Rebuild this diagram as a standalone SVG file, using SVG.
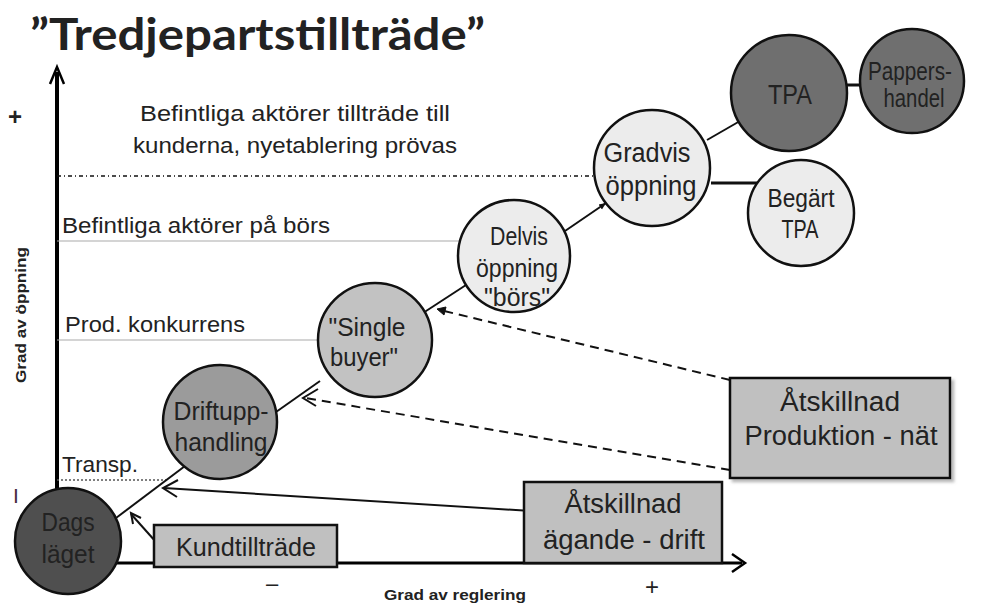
<svg xmlns="http://www.w3.org/2000/svg" width="986" height="607" viewBox="0 0 986 607">
<style>
text{font-family:"Liberation Sans",Arial,sans-serif;fill:#222;}
.lbl{font-size:22px;}
.nt{font-size:25px;text-anchor:middle;}
.bt{font-size:27px;text-anchor:middle;}
.ax{font-size:15px;font-weight:bold;}
.node circle{stroke:#111;stroke-width:2.5;}
.box rect{stroke:#111;stroke-width:2.5;fill:#c0c0c0;}
.con line,.con path{stroke:#111;stroke-width:2;fill:none;}
.dash{stroke-dasharray:9 6;}
</style>
<defs>
<marker id="small" markerWidth="8" markerHeight="8" refX="7" refY="4" orient="auto" markerUnits="userSpaceOnUse">
<path d="M0,1 L7,4 L0,7 z" fill="#111"/>
</marker>
<filter id="sh" x="-10%" y="-10%" width="130%" height="130%">
<feDropShadow dx="3" dy="3" stdDeviation="1.5" flood-color="#888" flood-opacity="0.6"/>
</filter>
</defs>
<rect width="986" height="607" fill="#fff"/>

<text x="30" y="50" style="font-family:Lato,'Liberation Sans',sans-serif;font-weight:bold;font-size:44px;" textLength="455" lengthAdjust="spacingAndGlyphs">”Tredjepartstillträde”</text>

<!-- axes -->
<g id="axes">
<line x1="57" y1="492" x2="57" y2="72" stroke="#000" stroke-width="4"/>
<path d="M50,84 L57,67 L64,84" fill="none" stroke="#000" stroke-width="2.5"/>
<line x1="110" y1="563" x2="742" y2="563" stroke="#000" stroke-width="3"/>
<path d="M732,554 L745,563 L732,572" fill="none" stroke="#000" stroke-width="2.5"/>
<text x="15" y="125" style="font-size:24px;font-weight:bold;" text-anchor="middle">+</text>
<text x="16" y="503" style="font-size:21px;fill:#4a2a40;" text-anchor="middle">I</text>
<text class="ax" x="0" y="0" transform="translate(26 315) rotate(-90)" text-anchor="middle" textLength="136" lengthAdjust="spacingAndGlyphs">Grad av öppning</text>
<text x="272" y="591" style="font-size:22px;" text-anchor="middle">–</text>
<text class="ax" x="455" y="600" text-anchor="middle" textLength="142" lengthAdjust="spacingAndGlyphs">Grad av reglering</text>
<text x="652" y="595" style="font-size:24px;" text-anchor="middle">+</text>
</g>

<!-- level lines -->
<g id="levels">
<line x1="57" y1="176" x2="598" y2="176" stroke="#111" stroke-width="1.3" stroke-dasharray="4 3 1 3"/>
<line x1="57" y1="241" x2="462" y2="241" stroke="#aaa" stroke-width="1.2"/>
<line x1="57" y1="340" x2="318" y2="340" stroke="#aaa" stroke-width="1.2"/>
<line x1="57" y1="480" x2="166" y2="480" stroke="#555" stroke-width="1.5" stroke-dasharray="2 2"/>
<text class="lbl" x="295" y="121" text-anchor="middle" textLength="310" lengthAdjust="spacingAndGlyphs">Befintliga aktörer tillträde till</text>
<text class="lbl" x="295" y="153" text-anchor="middle" textLength="324" lengthAdjust="spacingAndGlyphs">kunderna, nyetablering prövas</text>
<text class="lbl" x="62" y="233" textLength="268" lengthAdjust="spacingAndGlyphs">Befintliga aktörer på börs</text>
<text class="lbl" x="65" y="332" textLength="180" lengthAdjust="spacingAndGlyphs">Prod. konkurrens</text>
<text class="lbl" x="62" y="472" textLength="76" lengthAdjust="spacingAndGlyphs">Transp.</text>
</g>

<!-- connectors -->
<g id="connectors" class="con">
<line x1="116" y1="518" x2="189" y2="463"/>
<line x1="276" y1="412" x2="320" y2="381"/>
<line x1="423" y1="313" x2="466" y2="285"/>
<line x1="565" y1="231" x2="606" y2="203" marker-end="url(#small)"/>
<line x1="707" y1="140" x2="740" y2="121"/>
<line x1="845" y1="85" x2="868" y2="85" style="stroke-width:3"/>
<line x1="711" y1="183" x2="768" y2="183" style="stroke-width:3"/>
<line x1="156" y1="542" x2="131" y2="514"/>
<path d="M141,518 L131,513 L133,524"/>
<line x1="547" y1="512" x2="164" y2="488"/>
<path d="M178,480 L163,488 L177,497"/>
<line class="dash" x1="730" y1="380" x2="440" y2="310"/>
<path d="M437,309 L446,307 L444,315 z" style="fill:#111;stroke-width:1"/>
<line class="dash" x1="730" y1="470" x2="305" y2="398"/>
<path d="M318,389 L303,398 L316,406"/>
</g>

<!-- nodes -->
<g id="dags" class="node"><circle cx="68" cy="541" r="53" fill="#4f4f4f"/>
<text class="nt" x="68" y="531" textLength="53" lengthAdjust="spacingAndGlyphs">Dags</text><text class="nt" x="68" y="563" textLength="53" lengthAdjust="spacingAndGlyphs">läget</text></g>
<g id="drift" class="node"><circle cx="220" cy="422" r="57" fill="#9b9b9b"/>
<text class="nt" x="221" y="420" textLength="95" lengthAdjust="spacingAndGlyphs">Driftupp-</text><text class="nt" x="221" y="451" textLength="93" lengthAdjust="spacingAndGlyphs">handling</text></g>
<g id="single" class="node"><circle cx="375" cy="340" r="57" fill="#c2c2c2"/>
<text class="nt" x="367" y="336" textLength="77" lengthAdjust="spacingAndGlyphs">"Single</text><text class="nt" x="364" y="366" textLength="68" lengthAdjust="spacingAndGlyphs">buyer"</text></g>
<g id="delvis" class="node"><circle cx="514" cy="256" r="56" fill="#ececec"/>
<text class="nt" x="519" y="245" textLength="58" lengthAdjust="spacingAndGlyphs">Delvis</text><text class="nt" x="517" y="277" textLength="82" lengthAdjust="spacingAndGlyphs">öppning</text><text class="nt" x="517" y="306" textLength="66" lengthAdjust="spacingAndGlyphs">"börs"</text></g>
<g id="gradvis" class="node"><circle cx="652" cy="168" r="58" fill="#ececec"/>
<text class="nt" x="647" y="162" style="font-size:27px" textLength="87" lengthAdjust="spacingAndGlyphs">Gradvis</text><text class="nt" x="651" y="195" style="font-size:27px" textLength="91" lengthAdjust="spacingAndGlyphs">öppning</text></g>
<g id="tpa" class="node"><circle cx="789" cy="93" r="58" fill="#6f6f6f"/>
<text class="nt" x="790" y="104" style="font-size:27px" textLength="44" lengthAdjust="spacingAndGlyphs">TPA</text></g>
<g id="pappers" class="node"><circle cx="912" cy="81" r="52" fill="#6f6f6f"/>
<text class="nt" x="910" y="80" textLength="84" lengthAdjust="spacingAndGlyphs">Pappers-</text><text class="nt" x="914" y="107" textLength="61" lengthAdjust="spacingAndGlyphs">handel</text></g>
<g id="begart" class="node"><circle cx="801" cy="213" r="53" fill="#ececec"/>
<text class="nt" x="801" y="207" textLength="67" lengthAdjust="spacingAndGlyphs">Begärt</text><text class="nt" x="800" y="238" textLength="37" lengthAdjust="spacingAndGlyphs">TPA</text></g>

<!-- boxes -->
<g id="kund" class="box"><rect x="154" y="525" width="183" height="42"/>
<text class="nt" x="246" y="556" textLength="140" lengthAdjust="spacingAndGlyphs">Kundtillträde</text></g>
<g id="agande" class="box"><rect x="524" y="482" width="198" height="81"/>
<text class="bt" x="623" y="513" textLength="117" lengthAdjust="spacingAndGlyphs">Åtskillnad</text><text class="bt" x="624" y="549" textLength="162" lengthAdjust="spacingAndGlyphs">ägande - drift</text></g>
<g id="produktion" class="box"><rect x="730" y="378" width="220" height="100" filter="url(#sh)"/>
<text class="bt" x="840" y="411" textLength="120" lengthAdjust="spacingAndGlyphs">Åtskillnad</text><text class="bt" x="841" y="445" textLength="193" lengthAdjust="spacingAndGlyphs">Produktion - nät</text></g>
</svg>
